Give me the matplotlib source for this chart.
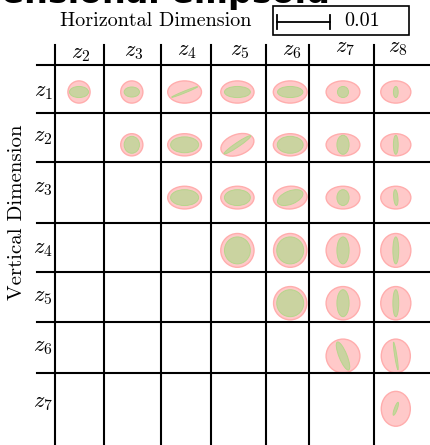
import numpy as np
import matplotlib
matplotlib.use("Agg")
import matplotlib.pyplot as plt
from matplotlib.patches import Ellipse, Rectangle

plt.rcParams["mathtext.fontset"] = "cm"

# labels
col_labels = ["$z_2$", "$z_3$", "$z_4$", "$z_5$", "$z_6$", "$z_7$", "$z_8$"]
row_labels = ["$z_1$", "$z_2$", "$z_3$", "$z_4$", "$z_5$", "$z_6$", "$z_7$"]

# ellipse sizes (full axes, units of 1e-3), angle in degrees
# outer = pink, inner = green ; one list per row, starting at column z_{row+1}
outer_w = [[4.2, 4.2, 6.4, 6.3, 6.4, 6.4, 5.7],
           [4.2, 6.4, 6.5, 6.4, 6.4, 5.7],
           [6.4, 6.3, 6.4, 6.4, 5.7],
           [6.3, 6.3, 6.4, 5.7],
           [6.3, 6.4, 5.7],
           [6.4, 5.5],
           [5.5]]
outer_h = [[4.2, 4.2, 4.2, 4.2, 4.2, 4.2, 4.2],
           [4.2, 4.2, 3.9, 4.2, 4.2, 4.2],
           [4.3, 4.3, 4.3, 4.3, 4.3],
           [6.4, 6.4, 6.4, 6.4],
           [6.3, 6.3, 6.3],
           [6.4, 6.4],
           [6.6]]
outer_a = [[0, 0, 0, 0, 0, 0, 0],
           [0, 0, 20, 0, 0, 0],
           [0, 0, 5, 0, 0],
           [0, 0, 0, 0],
           [0, 0, 0],
           [0, 0],
           [0]]
inner_w = [[3.6, 2.9, 5.3, 4.9, 4.8, 2.1, 0.9],
           [2.9, 5.3, 6.1, 4.9, 2.3, 0.9],
           [5.3, 4.9, 5.1, 2.3, 3.0],
           [4.9, 5.1, 2.3, 1.1],
           [5.1, 2.3, 1.1],
           [5.7, 5.3],
           [2.6]]
inner_h = [[2.1, 1.9, 0.35, 2.1, 2.1, 2.1, 2.1],
           [3.2, 3.0, 0.8, 3.2, 3.6, 3.6],
           [3.0, 3.0, 2.5, 3.0, 0.8],
           [5.1, 5.1, 5.1, 5.1],
           [5.1, 5.1, 5.1],
           [1.5, 0.4],
           [0.55]]
inner_a = [[0, 0, 22, 0, 0, 0, 0],
           [0, 0, 34, 0, 0, 0],
           [0, 0, 22, 0, 95],
           [0, 0, 0, 0],
           [0, 0, 0],
           [112, 99],
           [70]]

scale_value = 0.01

# layout (pixels)
W, H = 431, 445
px_unit = 52.8                      # pixels per 0.01
x0, y0 = 79, 92                     # centre of the first cell
col_edges = [55, 104, 161, 211, 266, 309, 374]
row_edges = [65, 113, 162, 223, 272, 322, 373]
col_lab_y = [54, 52, 51, 51, 51, 48, 48]
row_lab_y = [92, 137, 188, 249, 297, 347, 403]

fig = plt.figure(figsize=(W / 100, H / 100), dpi=100)
ax = fig.add_axes([0, 0, 1, 1])
ax.set_xlim(0, W)
ax.set_ylim(H, 0)
ax.axis("off")

k = px_unit / (scale_value * 1000)
for i in range(len(row_labels)):
    for n in range(len(outer_w[i])):
        j = i + n
        cx, cy = x0 + j * px_unit, y0 + i * px_unit
        ax.add_patch(Ellipse((cx, cy), outer_w[i][n] * k, outer_h[i][n] * k,
                             angle=-outer_a[i][n], facecolor="#ffc9c9",
                             edgecolor="#ffadad", lw=1.0, zorder=2))
        ax.add_patch(Ellipse((cx, cy), inner_w[i][n] * k, inner_h[i][n] * k,
                             angle=-inner_a[i][n], facecolor="#cad3a0",
                             edgecolor="#b6d68c", lw=0.7, zorder=3))

# grid
for x in col_edges:
    ax.plot([x, x], [45, H], color="black", lw=1.5, zorder=4)
for y in row_edges:
    ax.plot([37, W], [y, y], color="black", lw=1.5, zorder=4)

for j, lab in enumerate(col_labels):
    ax.text(x0 + j * px_unit + 2, col_lab_y[j], lab, ha="center", va="center",
            fontsize=16)
for i, lab in enumerate(row_labels):
    ax.text(43, row_lab_y[i], lab, ha="center", va="center", fontsize=16)

ax.text(156, 21, "Horizontal Dimension", family="cmr10", fontsize=14.5,
        ha="center", va="center")
ax.text(17, 212, "Vertical Dimension", family="cmr10", fontsize=15,
        ha="center", va="center", rotation=90)

# scale bar legend
ax.add_patch(Rectangle((273, 6), 136, 29, fill=False, edgecolor="black", lw=1.2))
ax.plot([277, 277 + scale_value * 100 * px_unit], [22, 22], color="black", lw=1.3)
ax.plot([277, 277], [15, 29], color="black", lw=1.3)
ax.plot([277 + px_unit, 277 + px_unit], [15, 29], color="black", lw=1.3)
ax.text(362, 21, "0.01", family="cmr10", fontsize=14.5, ha="center", va="center")

fig.text(330 / W, 1 - 3 / H, "Multi-dimensional ellipsoid", fontsize=24,
         fontweight="bold", ha="right", va="baseline")

fig.savefig("out.png", dpi=100)
